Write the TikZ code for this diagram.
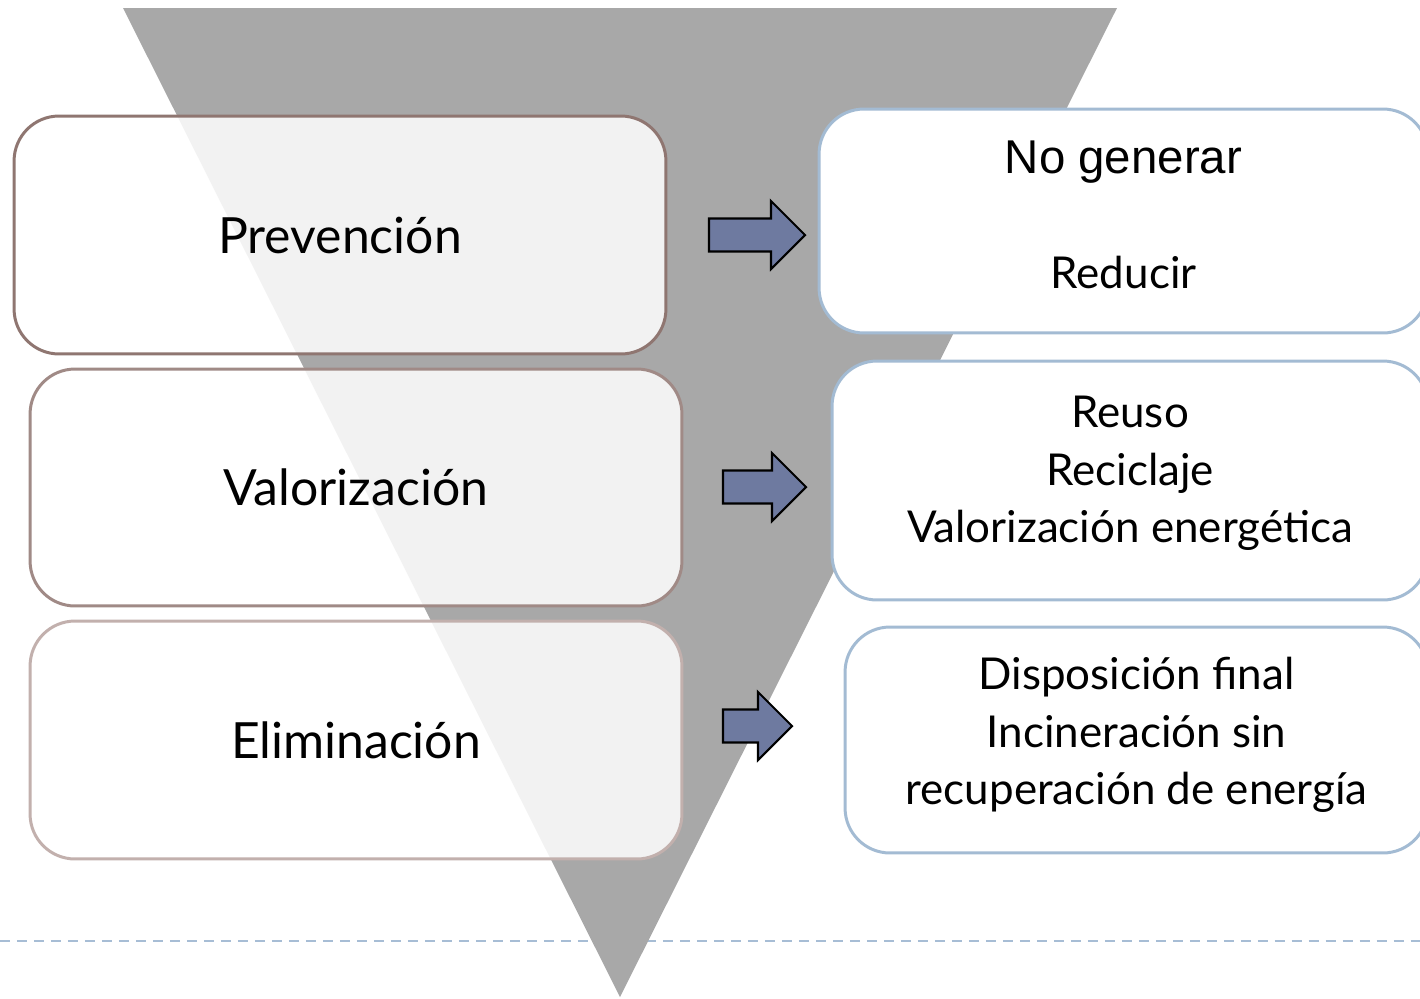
\documentclass[tikz,border=0pt]{standalone}
\usepackage{fontspec}
\setmainfont{Lato}
\newfontfamily\arialfont{Liberation Sans}
\usetikzlibrary{positioning}
\definecolor{trigray}{HTML}{A8A8A8}
\definecolor{dashblue}{HTML}{A7BDD5}
\definecolor{boxblue}{HTML}{A3BBD3}
\definecolor{brownA}{HTML}{8F7671}
\definecolor{brownB}{HTML}{A08A86}
\definecolor{brownC}{HTML}{C2B0AD}
\definecolor{arrowfill}{HTML}{6E7AA0}
\tikzset{
    lbox/.style = {rectangle, rounded corners=0.9cm, line width=1.7pt, fill=white, fill opacity=0.86, text opacity=1,
                   minimum width=13.04cm, align=center, font=\fontsize{28.4}{36}\selectfont},
    rbox/.style = {rectangle, rounded corners=0.9cm, line width=1.7pt, draw=boxblue, fill=white},
    rtext/.style = {align=center, inner sep=0pt, font=\fontsize{25}{32.6}\selectfont},
    blockarrow/.style = {draw=black, line width=1.2pt, fill=arrowfill, line join=miter},
    dashline/.style = {dashblue, line width=1.1pt, dash pattern=on 0.2cm off 0.14cm}
}

\begin{document}
\begin{tikzpicture}[x=0.02cm, y=-0.02cm]
  \clip (0,0) rectangle (1420,998);

  % base line and funnel
  \draw[dashline] (0,941) -- (1420,941);
  \fill[trigray] (123,8) -- (1117,8) -- (620,997) -- cycle;

  % left column
  \node[lbox, draw=brownA, minimum height=4.76cm] (prev) at (340,235) {Prevención};
  \node[lbox, draw=brownB, minimum height=4.74cm] (valo) at (356,487.5) {Valorización};
  \node[lbox, draw=brownC, minimum height=4.76cm] (elim) at (356,740) {Eliminación};

  % right column
  \node[rbox, minimum width=12.18cm, minimum height=4.48cm] (gen) at (1123.5,221) {};
  \node[rbox, minimum width=11.92cm, minimum height=4.78cm] (rec) at (1130,480.5) {};
  \node[rbox, minimum width=11.66cm, minimum height=4.52cm] (disp) at (1136.5,740) {};
  \node[rtext] (gent) at ([yshift=0.12cm]gen.center)
    {{\arialfont\fontsize{27}{32.6}\selectfont No generar}\\[0pt] \\ Reducir};
  \node[rtext] (rect) at ([yshift=0.14cm]rec.center)
    {Reuso\\Reciclaje\\Valorización energética};
  \node[rtext] (dispt) at ([yshift=0.1cm]disp.center)
    {Disposición final\\Incineración sin\\recuperación de energía};

  % arrows
  \coordinate (ar1) at (709,235);
  \coordinate (ar2) at (723,487);
  \coordinate (ar3) at (723,726);
  \draw[blockarrow] (ar1) ++(0,-16.5) -- ++(62,0) -- ++(0,-17.5) -- ++(34,34) -- ++(-34,34) -- ++(0,-17.5) -- ++(-62,0) -- cycle;
  \draw[blockarrow] (ar2) ++(0,-16.5) -- ++(49,0) -- ++(0,-17.5) -- ++(34,34) -- ++(-34,34) -- ++(0,-17.5) -- ++(-49,0) -- cycle;
  \draw[blockarrow] (ar3) ++(0,-16.5) -- ++(35,0) -- ++(0,-17.5) -- ++(34,34) -- ++(-34,34) -- ++(0,-17.5) -- ++(-35,0) -- cycle;

\end{tikzpicture}
\end{document}
